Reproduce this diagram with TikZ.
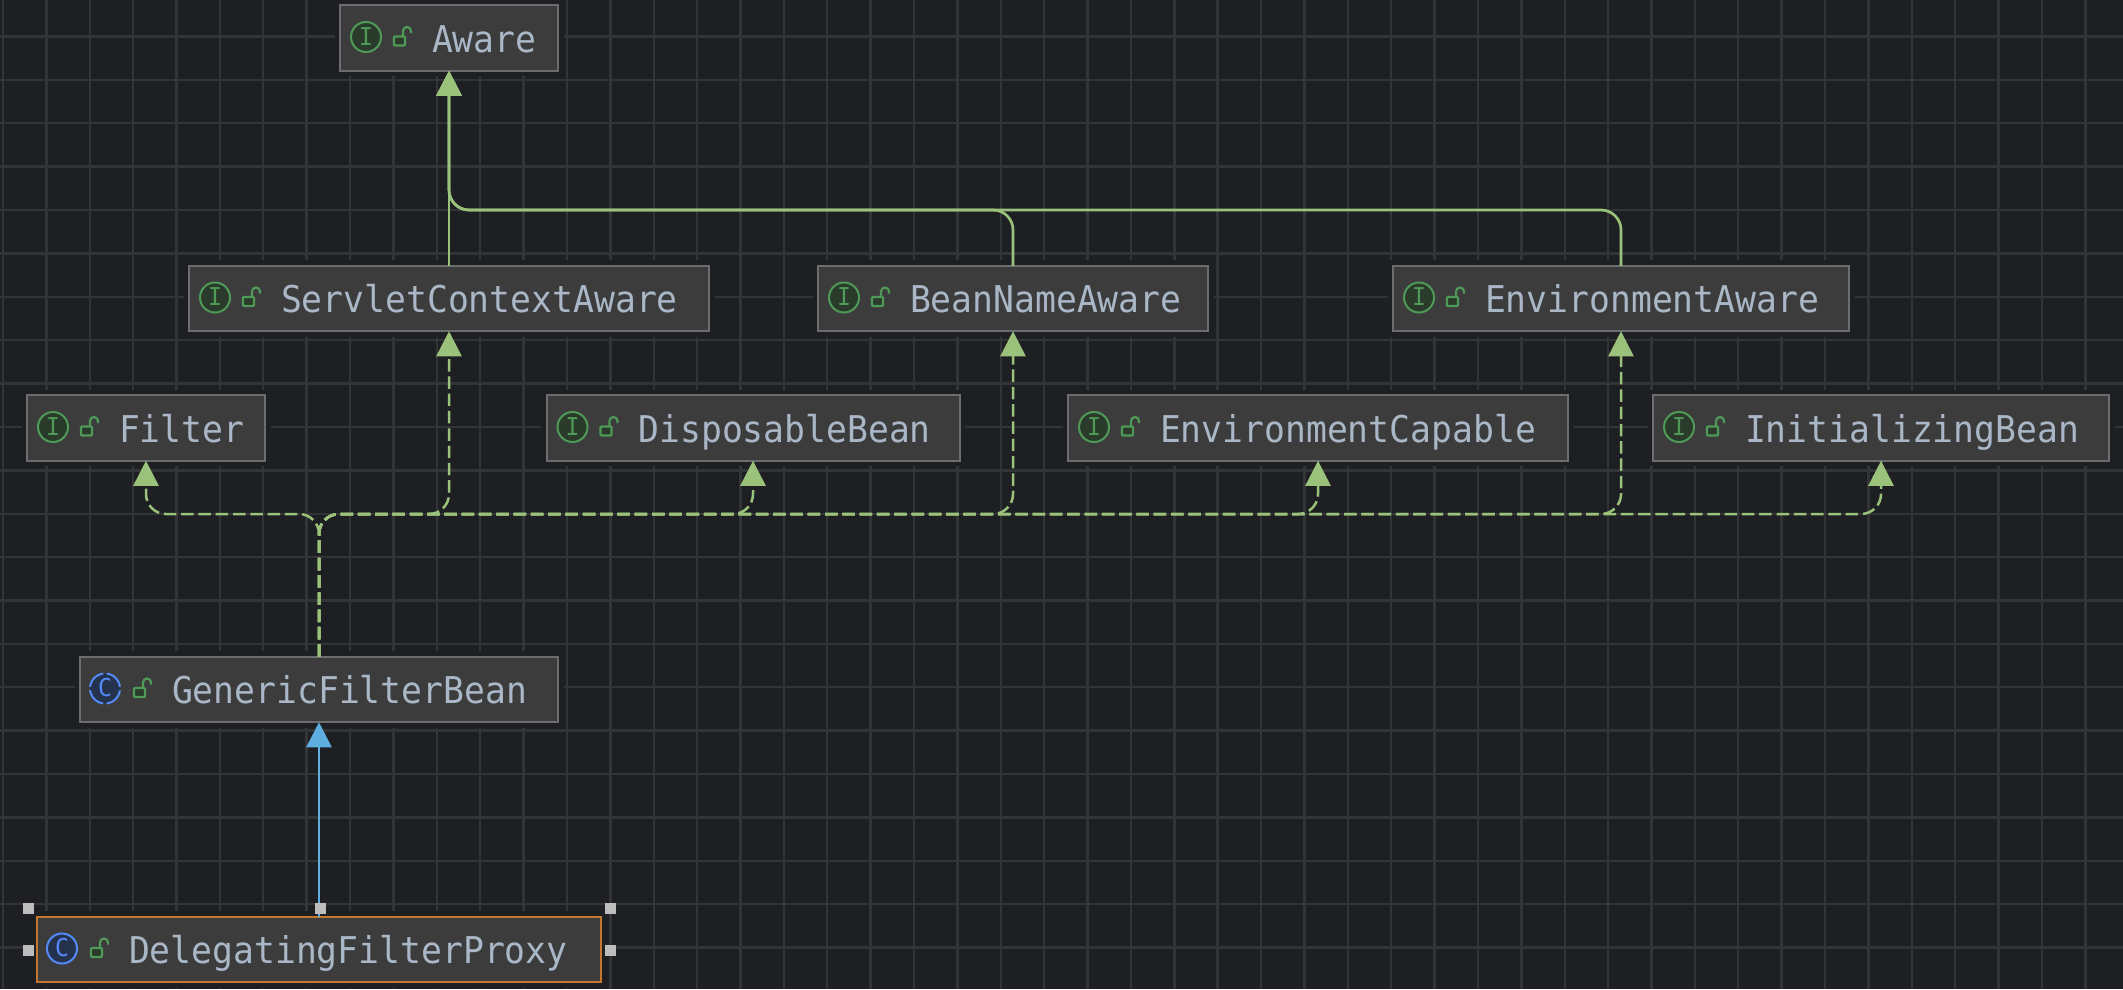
\documentclass[tikz,border=0pt]{standalone}
\usepackage{fontspec}
\setmonofont[FakeStretch=0.94]{DejaVu Sans Mono}
\usetikzlibrary{arrows.meta}

\definecolor{canvasbg}{HTML}{1E1F22}
\definecolor{gridline}{HTML}{333436}
\definecolor{boxfill}{HTML}{3C3C3D}
\definecolor{boxedge}{HTML}{6C6D6F}
\definecolor{boxtext}{HTML}{A9B7C6}
\definecolor{selectedge}{HTML}{C5762F}
\definecolor{extendgreen}{HTML}{9BC27A}
\definecolor{extendblue}{HTML}{5FAEE0}
\definecolor{markgreen}{HTML}{4F9A57}
\definecolor{markgreenbg}{HTML}{2A3B2C}
\definecolor{markblue}{HTML}{548AF7}
\definecolor{markbluebg}{HTML}{25324D}
\definecolor{gripgray}{HTML}{BDBDBD}

\tikzset{
  classbox/.style={draw=boxedge,fill=boxfill,line width=0.02cm,
    preaction={draw=canvasbg,line width=0.11cm},
    inner sep=0,outer sep=0,minimum height=0.655cm,align=left,
    text=boxtext,text height=0.33cm,text depth=0.05cm,
    font=\ttfamily\fontsize{10.5}{12}\selectfont,
    execute at begin node=\hspace*{0.92cm}},
  extends/.style={line width=0.027cm,rounded corners=0.2cm,
    -{Triangle[length=0.25cm,width=0.25cm]}},
  realizes/.style={extends,draw=extendgreen,fill=extendgreen,line width=0.025cm,
    dash pattern=on 0.125cm off 0.048cm},
  grip/.style={fill=gripgray,minimum size=0.11cm,inner sep=0},
  markletter/.style={text height=0.16cm,text depth=0,inner sep=0,
    font=\ttfamily\fontsize{7}{8}\selectfont},
  lockmark/.pic={
    \draw[markgreen,fill=markgreenbg,line width=0.022cm,rounded corners=0.01cm]
      (0.54,-0.075) rectangle (0.65,0.015);
    \draw[markgreen,line width=0.022cm]
      (0.63,0.015) -- (0.63,0.07) arc[start angle=180,end angle=0,radius=0.04] -- (0.71,0.05);
  },
  interfacemark/.pic={
    \draw[markgreen,fill=markgreenbg,line width=0.02cm] (0.26,0.01) circle[radius=0.15];
    \node[markletter,text=markgreen] (-glyph) at (0.26,0.01) {I};
  },
  classmark/.pic={
    \draw[markblue,fill=markbluebg,line width=0.02cm] (0.25,0.01) circle[radius=0.15];
    \node[markletter,text=markblue] (-glyph) at (0.25,0.01) {C};
  },
  abstractmark/.pic={
    \draw[markblue,fill=markbluebg,line width=0.02cm,
      dash pattern=on 0.2cm off 0.035cm,dash phase=0.2175cm] (0.25,0.01) circle[radius=0.15];
    \node[markletter,text=markblue] (-glyph) at (0.25,0.01) {C};
  }
}

\begin{document}
\begin{tikzpicture}

    \useasboundingbox (0,0) rectangle (21.23,9.89);
    \fill[canvasbg] (0,0) rectangle (21.23,9.89);

    % Grid
    \draw[gridline,line width=0.024cm,step=0.4338,xshift=0.03cm,yshift=0.415cm] (-0.03,-0.415) grid (21.2,9.475);

    % Interfaces
    \node[classbox,text width=2.18cm] (aware) at (4.49,9.51) {Aware};
    \node[classbox,text width=5.20cm] (servletaware) at (4.49,6.905) {ServletContextAware};
    \node[classbox,text width=3.90cm] (beanaware) at (10.13,6.905) {BeanNameAware};
    \node[classbox,text width=4.56cm] (envaware) at (16.21,6.905) {EnvironmentAware};
    \node[classbox,text width=2.38cm] (filter) at (1.46,5.61) {Filter};
    \node[classbox,text width=4.13cm] (disposable) at (7.53,5.61) {DisposableBean};
    \node[classbox,text width=5.00cm] (envcapable) at (13.18,5.61) {EnvironmentCapable};
    \node[classbox,text width=4.56cm] (initializing) at (18.81,5.61) {InitializingBean};

    % Classes
    \node[classbox,text width=4.78cm] (generic) at (3.19,2.995) {GenericFilterBean};
    \node[classbox,text width=5.64cm,draw=selectedge] (proxy) at (3.19,0.395) {DelegatingFilterProxy};

    %% Marks
    \pic (awaremark) at (aware.west) {interfacemark};
    \pic (servletmark) at (servletaware.west) {interfacemark};
    \pic (beanmark) at (beanaware.west) {interfacemark};
    \pic (envmark) at (envaware.west) {interfacemark};
    \pic (filtermark) at (filter.west) {interfacemark};
    \pic (disposablemark) at (disposable.west) {interfacemark};
    \pic (capablemark) at (envcapable.west) {interfacemark};
    \pic (initmark) at (initializing.west) {interfacemark};
    \pic (genericmark) at (generic.west) {abstractmark};
    \pic (proxymark) at (proxy.west) {classmark};

    %% Locks
    \pic at (aware.west) {lockmark};
    \pic at (servletaware.west) {lockmark};
    \pic at (beanaware.west) {lockmark};
    \pic at (envaware.west) {lockmark};
    \pic at (filter.west) {lockmark};
    \pic at (disposable.west) {lockmark};
    \pic at (envcapable.west) {lockmark};
    \pic at (initializing.west) {lockmark};
    \pic at (generic.west) {lockmark};
    \pic at (proxy.west) {lockmark};

    % Solid arrows
    \coordinate (topbus) at (4.49,7.79);
    \coordinate (dashbus) at (0,4.75);

    \draw[extends,extendgreen,fill=extendgreen] (servletaware.north) -- (aware.south);
    \draw[extends,extendgreen] (beanaware.north) |- (topbus) -- (aware.south);
    \draw[extends,extendgreen] (envaware.north) |- (topbus) -- (aware.south);
    \draw[extends,extendblue,fill=extendblue] (proxy.north) -- (generic.south);

    % Dashed arrows
    \draw[realizes,fill=none] (generic.north) |- (filter.south |- dashbus) -- (filter.south);
    \draw[realizes,fill=none] (generic.north) |- (servletaware.south |- dashbus) -- (servletaware.south);
    \draw[realizes,fill=none] (generic.north) |- (disposable.south |- dashbus) -- (disposable.south);
    \draw[realizes,fill=none] (generic.north) |- (beanaware.south |- dashbus) -- (beanaware.south);
    \draw[realizes,fill=none] (generic.north) |- (envcapable.south |- dashbus) -- (envcapable.south);
    \draw[realizes,fill=none] (generic.north) |- (envaware.south |- dashbus) -- (envaware.south);
    \draw[realizes,fill=none] (generic.north) |- (initializing.south |- dashbus) -- (initializing.south);

    % Selection handles
    \node[grip] (gripnw) at (0.29,0.81) {};
    \node[grip] (gripn) at (3.20,0.81) {};
    \node[grip] (gripne) at (6.10,0.81) {};
    \node[grip] (gripw) at (0.29,0.39) {};
    \node[grip] (gripe) at (6.10,0.39) {};

\end{tikzpicture}
\end{document}
